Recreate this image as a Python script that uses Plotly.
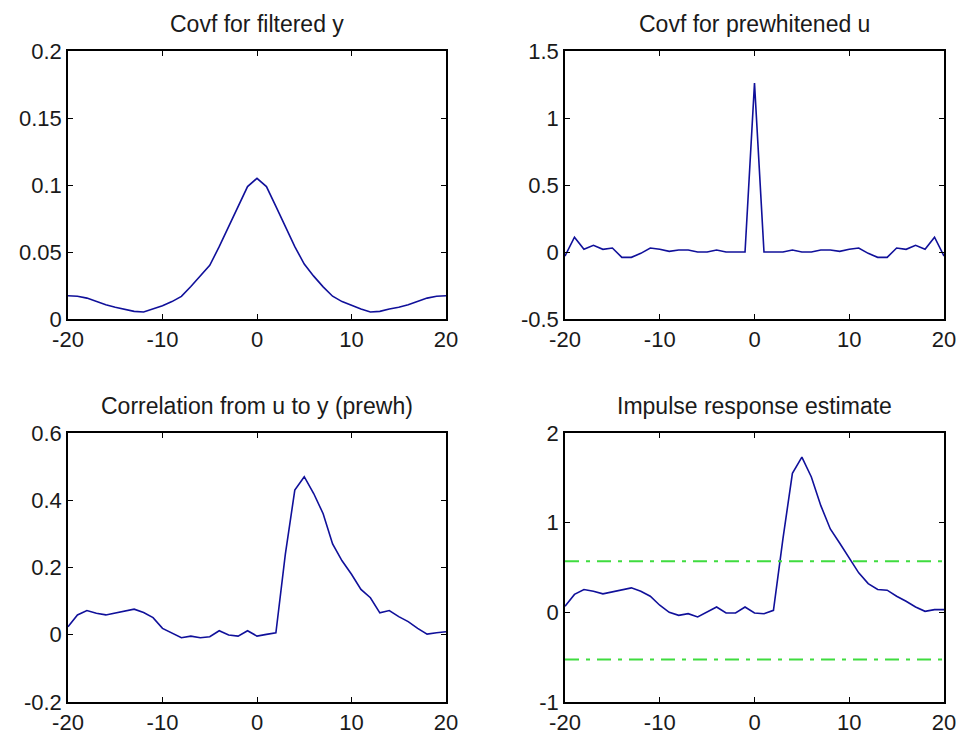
import plotly.graph_objects as go

lags = list(range(-20, 21))

covf_y = [0.0174, 0.0170, 0.0156, 0.0130, 0.0107, 0.0087, 0.0074, 0.0057, 0.0052, 0.0074,
          0.0099, 0.0130, 0.0169, 0.0243, 0.0318, 0.0400, 0.0540, 0.0690, 0.0840, 0.0988,
          0.1050,
          0.0988, 0.0840, 0.0690, 0.0540, 0.0410, 0.0320, 0.0240, 0.0170, 0.0130, 0.0099,
          0.0074, 0.0052, 0.0057, 0.0074, 0.0087, 0.0107, 0.0130, 0.0156, 0.0170, 0.0174]

covf_u = [-0.03, 0.11, 0.02, 0.05, 0.02, 0.03, -0.04, -0.04, -0.01, 0.03,
          0.02, 0.005, 0.015, 0.015, 0.0, 0.0, 0.015, 0.0, 0.0, 0.0,
          1.26,
          0.0, 0.0, 0.0, 0.015, 0.0, 0.0, 0.015, 0.015, 0.005, 0.02,
          0.03, -0.01, -0.04, -0.04, 0.03, 0.02, 0.05, 0.02, 0.11, -0.03]

corr_uy = [0.024, 0.059, 0.072, 0.064, 0.059, 0.064, 0.069, 0.076, 0.066, 0.051,
           0.019, 0.004, -0.009, -0.004, -0.009, -0.006, 0.012, -0.001, -0.004, 0.012,
           -0.004,
           0.001, 0.006, 0.240, 0.430, 0.470, 0.420, 0.360, 0.270, 0.220, 0.180,
           0.135, 0.110, 0.065, 0.072, 0.054, 0.039, 0.019, 0.002, 0.006, 0.009]

impulse = [0.067, 0.200, 0.255, 0.236, 0.206, 0.228, 0.255, 0.273, 0.236, 0.180,
           0.079, 0.000, -0.034, -0.015, -0.052, 0.000, 0.060, -0.007, -0.007, 0.060,
           -0.007,
           -0.015, 0.022, 0.820, 1.550, 1.730, 1.510, 1.190, 0.930, 0.770, 0.600,
           0.440, 0.320, 0.255, 0.247, 0.180, 0.124, 0.060, 0.011, 0.030, 0.030]

conf_upper = 0.57
conf_lower = -0.525

titles = ["Covf for filtered y", "Covf for prewhitened u",
          "Correlation from u to y (prewh)", "Impulse response estimate"]

x_ticks = [-20, -10, 0, 10, 20]
x_ticktext = ["-20", "-10", "0", "10", "20"]

y_ranges = [[0, 0.2], [-0.5, 1.5], [-0.2, 0.6], [-1, 2]]
y_ticks = [[0, 0.05, 0.1, 0.15, 0.2], [-0.5, 0, 0.5, 1, 1.5],
           [-0.2, 0, 0.2, 0.4, 0.6], [-1, 0, 1, 2]]
y_ticktext = [["0", "0.05", "0.1", "0.15", "0.2"], ["-0.5", "0", "0.5", "1", "1.5"],
              ["-0.2", "0", "0.2", "0.4", "0.6"], ["-1", "0", "1", "2"]]

series = [covf_y, covf_u, corr_uy, impulse]

W, H = 961, 736
x_doms = [[68 / W, 446 / W], [565 / W, 944 / W]]
y_doms = [[1 - 319 / H, 1 - 51 / H], [1 - 702 / H, 1 - 433 / H]]

FONT = "Liberation Sans, Arial, sans-serif"
TXT = "#1a1a1a"
BLUE = "#10109a"
GREEN = "#3fdc3f"

fig = go.Figure()
layout = dict(
    width=W, height=H, margin=dict(l=0, r=0, t=0, b=0, autoexpand=False),
    paper_bgcolor="white", plot_bgcolor="white", showlegend=False,
    font=dict(family=FONT, size=22, color=TXT),
)
annotations = []

for i in range(4):
    row, col = divmod(i, 2)
    sfx = "" if i == 0 else str(i + 1)
    xa, ya = "x" + sfx, "y" + sfx
    fig.add_trace(go.Scatter(x=lags, y=series[i], mode="lines",
                             line=dict(color=BLUE, width=1.6),
                             xaxis=xa, yaxis=ya, hoverinfo="skip"))
    if i == 3:
        for c in (conf_upper, conf_lower):
            fig.add_trace(go.Scatter(x=[lags[0], lags[-1]], y=[c, c], mode="lines",
                                     line=dict(color=GREEN, width=2, dash="14px,7px,4px,7px"),
                                     xaxis=xa, yaxis=ya, hoverinfo="skip"))
    common = dict(showline=True, linecolor="black", linewidth=1.5, mirror="ticks",
                  ticks="inside", ticklen=5, tickwidth=1, tickcolor="black",
                  showgrid=False, zeroline=False, tickmode="array", automargin=False,
                  tickfont=dict(family=FONT, size=22, color=TXT))
    layout["xaxis" + sfx] = dict(domain=x_doms[col], range=[-20, 20],
                                 tickvals=x_ticks, ticktext=x_ticktext,
                                 anchor=ya, **common)
    layout["yaxis" + sfx] = dict(domain=y_doms[row], range=y_ranges[i],
                                 tickvals=y_ticks[i], ticktext=y_ticktext[i],
                                 anchor=xa, **common)
    annotations.append(dict(text=titles[i], xref="paper", yref="paper",
                            x=sum(x_doms[col]) / 2, y=y_doms[row][1],
                            xanchor="center", yanchor="bottom", yshift=12,
                            showarrow=False,
                            font=dict(family=FONT, size=23, color=TXT)))

layout["annotations"] = annotations
fig.update_layout(**layout)
fig.write_html("out.html")
